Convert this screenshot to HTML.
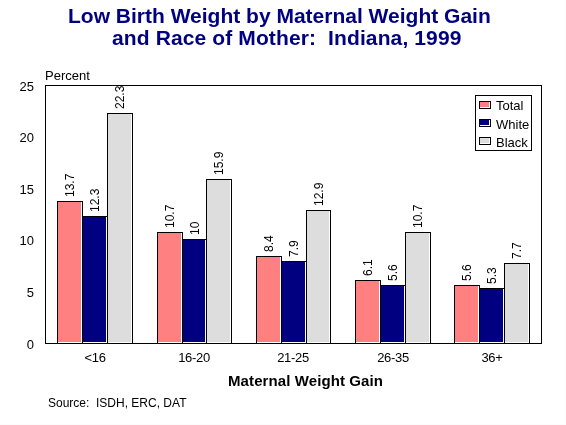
<!DOCTYPE html>
<html><head><meta charset="utf-8"><style>
html,body{margin:0;padding:0;background:#fff;width:566px;height:425px;overflow:hidden;position:relative}
body{-webkit-font-smoothing:antialiased;font-family:"Liberation Sans",sans-serif;color:#000}
.t{position:absolute;white-space:nowrap;line-height:1}
.title{position:absolute;font-weight:bold;color:#000080;font-size:21px;white-space:nowrap;line-height:1}
.frame{position:absolute;left:45px;top:85px;width:497px;height:259px;box-sizing:border-box;border:1px solid #000}
.bar{position:absolute;box-sizing:border-box;border:1px solid #000;background:#fff}
.bar i{position:absolute;left:0;top:0;right:1px;bottom:1px}
.vl{position:absolute;transform-origin:0 0;transform:rotate(-90deg);font-size:12px;line-height:12px;height:12px;white-space:nowrap}
.yl{position:absolute;left:0;width:34px;text-align:right;font-size:13px;line-height:16px}
.xl{position:absolute;top:350px;width:80px;text-align:center;font-size:13px;line-height:16px;letter-spacing:-0.3px}
.leg{position:absolute;left:475px;top:95px;width:57px;height:56px;box-sizing:border-box;border:1px solid #000;background:#fff}
.sw{position:absolute;left:3px;width:12px;height:8px;box-sizing:border-box;border:1px solid #000;background:#fff}
.sw i{position:absolute;left:0;top:0;right:1px;bottom:1px}
.lt{position:absolute;left:20px;font-size:13px;line-height:16px;white-space:nowrap}
.t,.title,.vl,.yl,.xl,.lt{will-change:transform}
.edge{position:absolute;background:#fcfcfc}
</style></head><body>
<div class="title" style="left:68px;top:5px">Low Birth Weight by Maternal Weight Gain</div>
<div class="title" style="left:112px;top:27px;letter-spacing:0.12px">and Race of Mother:&nbsp; Indiana, 1999</div>
<div class="t" style="left:45px;top:69px;font-size:13px">Percent</div>
<div class="yl" style="top:79px">25</div><div class="yl" style="top:130px">20</div><div class="yl" style="top:182px">15</div><div class="yl" style="top:233px">10</div><div class="yl" style="top:285px">5</div><div class="yl" style="top:337px">0</div>
<div class="frame"></div>
<div class="bar" style="left:57px;top:201px;width:26px;height:143px"><i style="background:#FF8080"></i></div><div class="vl" style="left:64px;top:197px">13.7</div><div class="bar" style="left:82px;top:216px;width:26px;height:128px"><i style="background:#000080"></i></div><div class="vl" style="left:89px;top:212px">12.3</div><div class="bar" style="left:107px;top:113px;width:26px;height:231px"><i style="background:#DDDDDD"></i></div><div class="vl" style="left:114px;top:109px">22.3</div><div class="xl" style="left:55px">&lt;16</div><div class="bar" style="left:157px;top:232px;width:26px;height:112px"><i style="background:#FF8080"></i></div><div class="vl" style="left:164px;top:228px">10.7</div><div class="bar" style="left:182px;top:239px;width:25px;height:105px"><i style="background:#000080"></i></div><div class="vl" style="left:189px;top:235px">10</div><div class="bar" style="left:206px;top:179px;width:26px;height:165px"><i style="background:#DDDDDD"></i></div><div class="vl" style="left:213px;top:175px">15.9</div><div class="xl" style="left:154px">16-20</div><div class="bar" style="left:256px;top:256px;width:26px;height:88px"><i style="background:#FF8080"></i></div><div class="vl" style="left:263px;top:252px">8.4</div><div class="bar" style="left:281px;top:261px;width:26px;height:83px"><i style="background:#000080"></i></div><div class="vl" style="left:288px;top:257px">7.9</div><div class="bar" style="left:306px;top:210px;width:25px;height:134px"><i style="background:#DDDDDD"></i></div><div class="vl" style="left:313px;top:206px">12.9</div><div class="xl" style="left:253px">21-25</div><div class="bar" style="left:355px;top:280px;width:26px;height:64px"><i style="background:#FF8080"></i></div><div class="vl" style="left:362px;top:276px">6.1</div><div class="bar" style="left:380px;top:285px;width:26px;height:59px"><i style="background:#000080"></i></div><div class="vl" style="left:387px;top:281px">5.6</div><div class="bar" style="left:405px;top:232px;width:26px;height:112px"><i style="background:#DDDDDD"></i></div><div class="vl" style="left:412px;top:228px">10.7</div><div class="xl" style="left:353px">26-35</div><div class="bar" style="left:454px;top:285px;width:26px;height:59px"><i style="background:#FF8080"></i></div><div class="vl" style="left:461px;top:281px">5.6</div><div class="bar" style="left:479px;top:288px;width:26px;height:56px"><i style="background:#000080"></i></div><div class="vl" style="left:486px;top:284px">5.3</div><div class="bar" style="left:504px;top:263px;width:26px;height:81px"><i style="background:#DDDDDD"></i></div><div class="vl" style="left:511px;top:259px">7.7</div><div class="xl" style="left:452px">36+</div>
<div class="leg">
<div class="sw" style="top:5px"><i style="background:#FF8080"></i></div><div class="lt" style="top:2px">Total</div>
<div class="sw" style="top:23px"><i style="background:#000080"></i></div><div class="lt" style="top:21px">White</div>
<div class="sw" style="top:41px"><i style="background:#DDDDDD"></i></div><div class="lt" style="top:39px">Black</div>
</div>
<div class="t" style="left:228px;top:373px;font-size:15px;letter-spacing:0.1px;font-weight:bold">Maternal Weight Gain</div>
<div class="t" style="left:48px;top:397px;font-size:12px">Source:&nbsp; ISDH, ERC, DAT</div>
<div class="edge" style="left:565px;top:0;width:1px;height:425px"></div><div class="edge" style="left:0;top:424px;width:566px;height:1px"></div>
</body></html>
